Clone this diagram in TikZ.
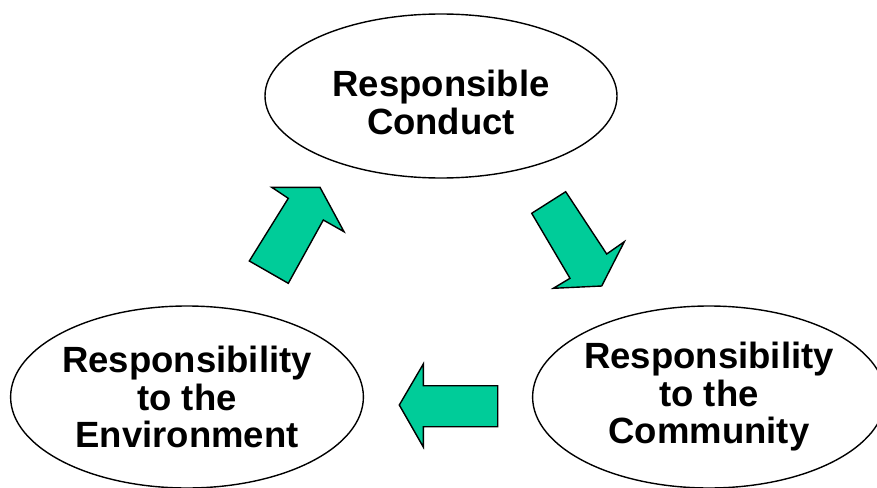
\documentclass[tikz,border=0pt]{standalone}
\usepackage{fontspec}
\setmainfont{Liberation Sans}
\usepackage{tikz}
\usepackage{xcolor}
\usetikzlibrary{shapes.geometric}

\definecolor{arrowgreen}{RGB}{0,204,153}

\tikzset{
  blob/.style={ellipse, draw=black, line width=1.4pt, fill=white, inner sep=0pt,
    minimum width=352pt, align=center,
    font=\bfseries\fontsize{36.5}{37.5}\selectfont},
  blockarrow/.style={fill=arrowgreen, draw=black, line width=1.4pt, line join=miter}
}

\begin{document}
\begin{tikzpicture}[x=1pt,y=-1pt]
  \useasboundingbox (0,0) rectangle (877,487);

  \node[blob, minimum height=164pt, text height=77pt] (conduct) at (441,96) {Responsible\\Conduct};
  \node[blob, minimum height=182pt] (environment) at (187,397) {Responsibility\\to the\\Environment};
  \node[blob, minimum height=182pt] (community) at (709,397) {Responsibility\\to the\\Community};

  % up arrow, environment to conduct
  \filldraw[blockarrow] (249.3,261) -- (288.3,283.3) -- (323.3,220) -- (344,231.7)
    -- (320,187.3) -- (271.7,187.3) -- (288.3,198.3) -- cycle;

  % down arrow, conduct to community
  \filldraw[blockarrow] (531.7,213.3) -- (565.7,191.7) -- (606.7,254) -- (624.3,241.7)
    -- (601.7,286) -- (553.3,288.3) -- (570,278.3) -- cycle;

  % left arrow, community to environment
  \filldraw[blockarrow] (399.3,405) -- (423.3,364) -- (423.3,385.7) -- (497.7,385.7)
    -- (497.7,426.7) -- (423.3,426.7) -- (423.3,447) -- cycle;
\end{tikzpicture}
\end{document}
